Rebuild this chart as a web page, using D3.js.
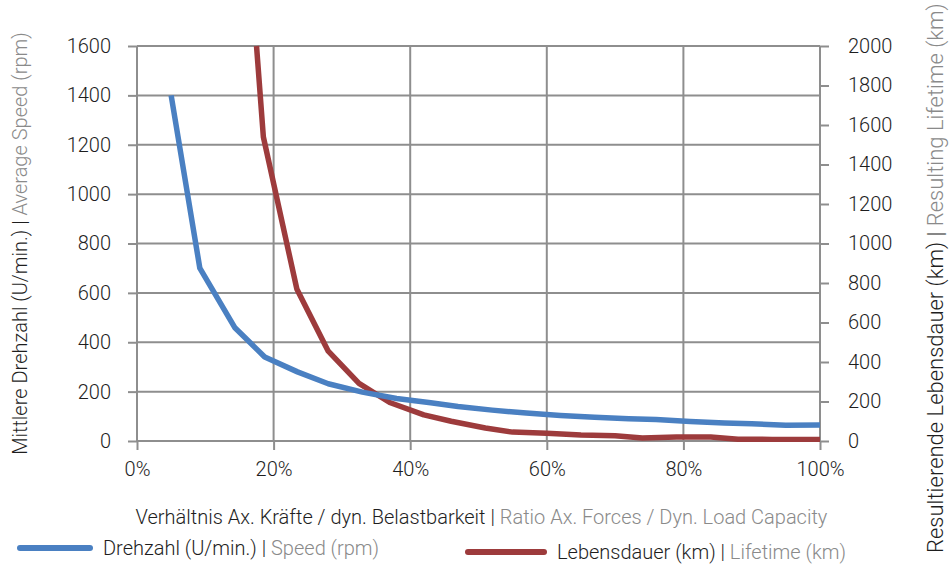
<!DOCTYPE html>
<html>
<head>
<meta charset="utf-8">
<script src="https://cdn.jsdelivr.net/npm/d3@7"></script>
<style>
  body { margin: 0; background: #fff; }
  svg text { font-family: Roboto, "DejaVu Sans Condensed", sans-serif; font-weight: 300; }
</style>
</head>
<body>
<svg id="chart" width="949" height="566"></svg>
<script>
// ratio axial forces / dyn. load capacity (%) and values
var speedX = [5, 9.2, 14.3, 18.7, 23.5, 28, 33, 38, 43, 47, 52, 57, 62, 67, 72, 76, 81, 86, 90, 95, 100];
var speedY = [1400, 700, 460, 340, 280, 232, 198, 172, 155, 140, 125, 113, 103, 96, 90, 87, 79, 73, 70, 64, 65];

var lifeX = [17.5, 18.5, 23.4, 28, 32.5, 37, 42, 46, 51, 55, 60, 65, 70, 74, 79, 84, 88, 93, 100];
var lifeY = [2000, 1540, 770, 455, 292, 195, 132, 100, 66, 45, 39, 30, 26, 15, 20, 20, 9, 8, 8];

var xTicks = [0, 20, 40, 60, 80, 100];
var leftTicks = [0, 200, 400, 600, 800, 1000, 1200, 1400, 1600];
var rightTicks = [0, 200, 400, 600, 800, 1000, 1200, 1400, 1600, 1800, 2000];

var blue = "#4a80c2", red = "#9d3b3c", grid = "#8e8e8e", grey = "#8a8a8a", dark = "#1e1e1e";

var svg = d3.select("#chart");
var mLeft = 137, mRight = 820, mTop = 46, mBottom = 441;

var x = d3.scaleLinear().domain([0, 100]).range([mLeft, mRight]);
var yL = d3.scaleLinear().domain([0, 1600]).range([mBottom, mTop]);
var yR = d3.scaleLinear().domain([0, 2000]).range([mBottom, mTop]);

// grid
svg.append("g").selectAll("line").data(leftTicks).enter().append("line")
    .attr("x1", mLeft).attr("x2", mRight)
    .attr("y1", function (d) { return yL(d); }).attr("y2", function (d) { return yL(d); })
    .style("stroke", grid).style("stroke-width", 2);
svg.append("g").selectAll("line").data(xTicks).enter().append("line")
    .attr("x1", function (d) { return x(d); }).attr("x2", function (d) { return x(d); })
    .attr("y1", mTop).attr("y2", mBottom)
    .style("stroke", grid).style("stroke-width", 2);

// axes
function styleAxis(g) {
    g.attr("font-family", null);
    g.select(".domain").remove();
    g.selectAll(".tick line").style("stroke", grid).style("stroke-width", 2);
    g.selectAll(".tick text").style("font-size", "20px").style("fill", dark);
}
svg.append("g").attr("transform", "translate(" + mLeft + ",0)")
    .call(d3.axisLeft(yL).tickValues(leftTicks).tickSize(9).tickPadding(17).tickFormat(d3.format("d")))
    .call(styleAxis);
svg.append("g").attr("transform", "translate(" + mRight + ",0)")
    .call(d3.axisRight(yR).tickValues(rightTicks).tickSize(9).tickPadding(19).tickFormat(d3.format("d")))
    .call(styleAxis);
svg.append("g").attr("transform", "translate(0," + mBottom + ")")
    .call(d3.axisBottom(x).tickValues(xTicks).tickSize(9).tickPadding(12)
        .tickFormat(function (d) { return d + "%"; }))
    .call(styleAxis);

// lines
svg.append("defs").append("clipPath").attr("id", "clip")
    .append("rect").attr("x", mLeft).attr("y", mTop - 1).attr("width", mRight - mLeft + 3).attr("height", mBottom - mTop + 2);

var lineL = d3.line().x(function (d, i) { return x(speedX[i]); }).y(function (d) { return yL(d); });
var lineR = d3.line().x(function (d, i) { return x(lifeX[i]); }).y(function (d) { return yR(d); });

svg.append("path").attr("d", lineR(lifeY)).attr("clip-path", "url(#clip)")
    .style("fill", "none").style("stroke", red).style("stroke-width", 5.5).style("stroke-linejoin", "round");
svg.append("path").attr("d", lineL(speedY))
    .style("fill", "none").style("stroke", blue).style("stroke-width", 5.5).style("stroke-linejoin", "round");

// titles
function twoPart(t, a, b) {
    t.append("tspan").text(a).style("fill", dark);
    t.append("tspan").text(" | ").style("fill", dark);
    t.append("tspan").text(b).style("fill", grey);
}
svg.append("text").attr("x", (mLeft + mRight) / 2 + 3).attr("y", 524)
    .attr("text-anchor", "middle").style("font-size", "20px")
    .call(twoPart, "Verhältnis Ax. Kräfte / dyn. Belastbarkeit", "Ratio Ax. Forces / Dyn. Load Capacity");
svg.append("text").attr("transform", "translate(27," + (mTop + mBottom) / 2 + ") rotate(-90)")
    .attr("text-anchor", "middle").style("font-size", "20px")
    .call(twoPart, "Mittlere Drehzahl (U/min.)", "Average Speed (rpm)");
svg.append("text").attr("transform", "translate(943,553) rotate(-90)")
    .attr("text-anchor", "start").style("font-size", "22px")
    .call(twoPart, "Resultierende Lebensdauer (km)", "Resulting Lifetime (km)");

// legend
var legend = [
    { color: blue, x1: 20, x2: 90, y: 548, tx: 103, a: "Drehzahl (U/min.)", b: "Speed (rpm)" },
    { color: red, x1: 468, x2: 544, y: 552, tx: 557, a: "Lebensdauer (km)", b: "Lifetime (km)" }
];
legend.forEach(function (l) {
    svg.append("line").attr("x1", l.x1).attr("x2", l.x2).attr("y1", l.y).attr("y2", l.y)
        .style("stroke", l.color).style("stroke-width", 6).style("stroke-linecap", "round");
    svg.append("text").attr("x", l.tx).attr("y", l.y + 7).style("font-size", "20px")
        .call(twoPart, l.a, l.b);
});
</script>
</body>
</html>
